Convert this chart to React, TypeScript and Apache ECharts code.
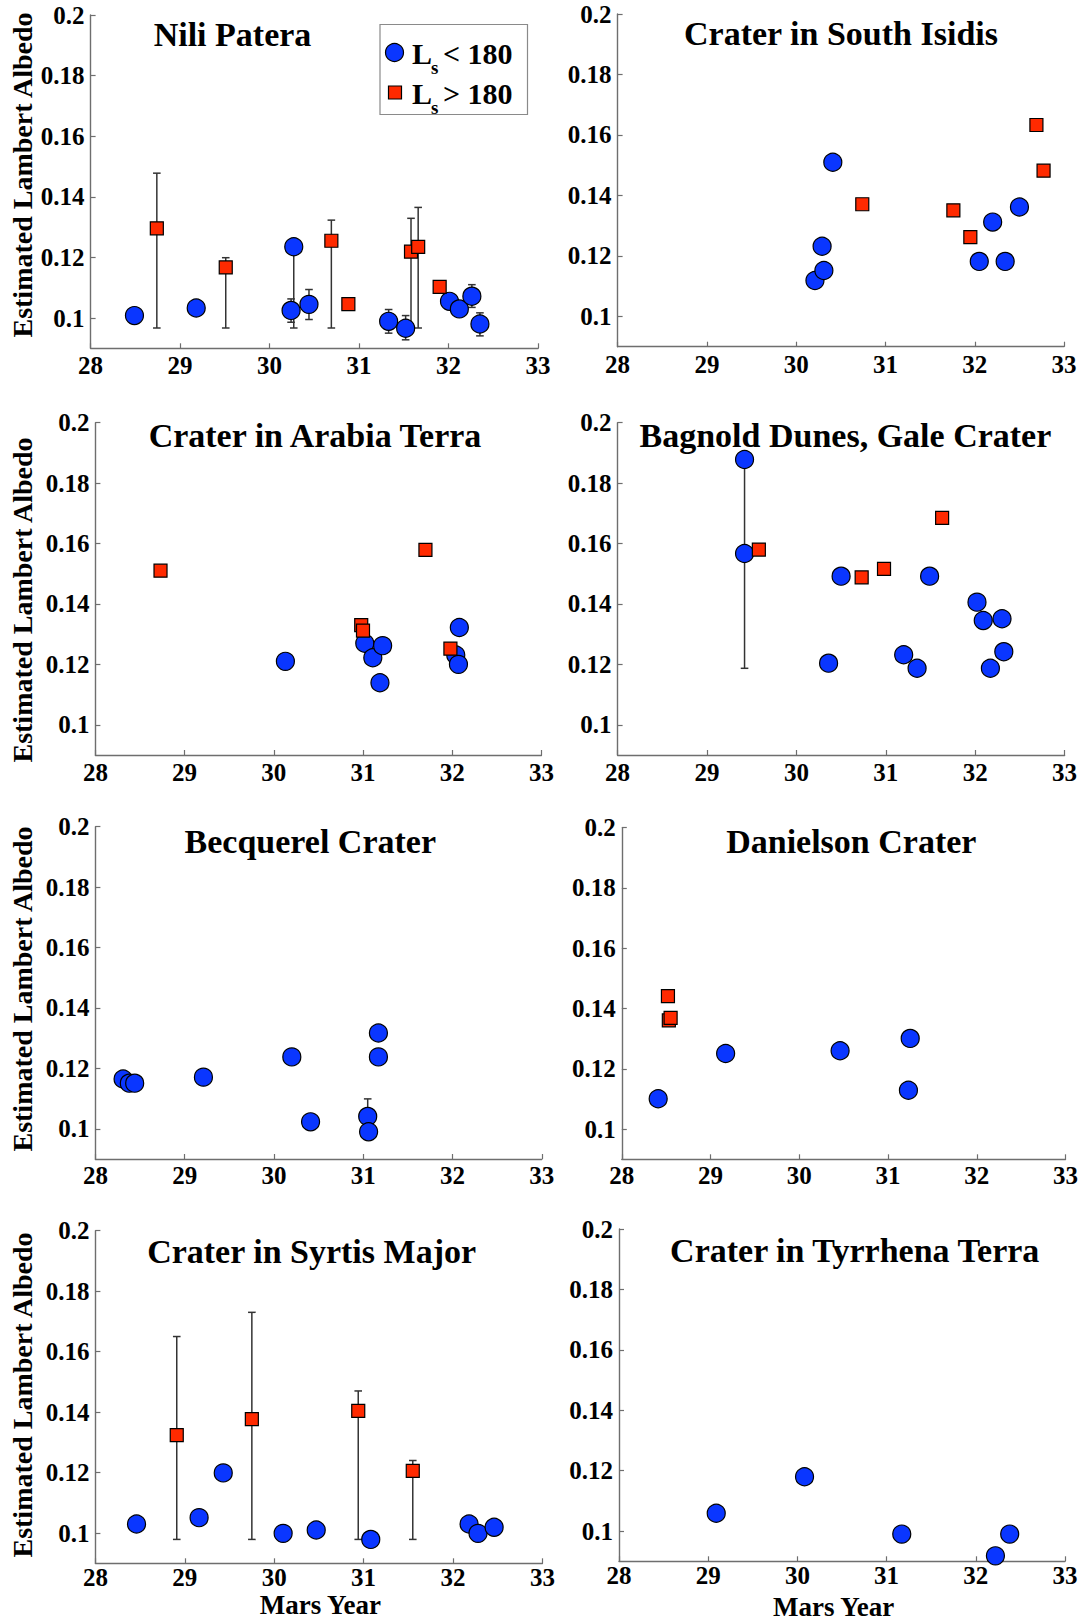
import React, { useEffect, useRef } from 'react';
import * as echarts from 'echarts';

const FONT = "'Liberation Serif', 'Times New Roman', serif";

// ---------- data ----------
const panelTitles = [
  'Nili Patera',
  'Crater in South Isidis',
  'Crater in Arabia Terra',
  'Bagnold Dunes, Gale Crater',
  'Becquerel Crater',
  'Danielson Crater',
  'Crater in Syrtis Major',
  'Crater in Tyrrhena Terra',
];

const xMin = 28;
const xMax = 33;
const yMin = 0.09;
const yMax = 0.2;

const niliBlue = [
  [28.49, 0.1008], [29.18, 0.1033], [30.27, 0.1235], [30.24, 0.1025], [30.44, 0.1045],
  [31.33, 0.0989], [31.52, 0.0966], [32.01, 0.1055], [32.12, 0.103], [32.26, 0.1072], [32.35, 0.098],
];
const niliRed = [
  [28.74, 0.1296], [29.51, 0.1167], [30.69, 0.1255], [30.88, 0.1046], [31.58, 0.1219], [31.66, 0.1235], [31.9, 0.1103],
];
const niliErr = [
  [28.74, 0.0967, 0.1478], [29.51, 0.0967, 0.1199], [30.27, 0.0967, 0.1235], [30.24, 0.0986, 0.1063],
  [30.44, 0.0995, 0.1094], [30.69, 0.0967, 0.1323], [31.33, 0.095, 0.1028], [31.52, 0.0928, 0.1008],
  [31.58, 0.0967, 0.1329], [31.66, 0.0967, 0.1365], [32.26, 0.1035, 0.111], [32.35, 0.0941, 0.1017],
];

const isidisBlue = [
  [30.21, 0.1119], [30.31, 0.1152], [30.29, 0.1232], [30.41, 0.151], [32.05, 0.1182], [32.2, 0.1312], [32.34, 0.1182], [32.5, 0.1362],
];
const isidisRed = [[30.74, 0.1371], [31.76, 0.1351], [31.95, 0.1262], [32.69, 0.1633], [32.77, 0.1482]];

const arabiaBlue = [
  [30.13, 0.121], [31.02, 0.127], [31.11, 0.1222], [31.22, 0.1262], [31.19, 0.1139], [32.08, 0.1322], [32.04, 0.1231], [32.07, 0.12],
];
const arabiaRed = [[28.73, 0.151], [30.98, 0.133], [31.0, 0.1312], [31.7, 0.1579], [31.98, 0.1252]];

const bagnoldBlue = [
  [29.42, 0.1878], [29.42, 0.1567], [30.36, 0.1204], [30.5, 0.1492], [31.2, 0.1232], [31.35, 0.1187],
  [31.49, 0.1492], [32.02, 0.1406], [32.09, 0.1345], [32.17, 0.1187], [32.3, 0.1351], [32.32, 0.1242],
];
const bagnoldRed = [[29.58, 0.158], [30.73, 0.1488], [30.98, 0.1516], [31.63, 0.1685]];
const bagnoldErr = [[29.42, 0.1187, 0.1878]];

const becquerelBlue = [
  [28.31, 0.1165], [28.38, 0.1151], [28.44, 0.1151], [29.21, 0.1171], [30.2, 0.1238],
  [30.41, 0.1023], [31.05, 0.1041], [31.06, 0.099], [31.17, 0.1317], [31.17, 0.1238],
];
const becquerelErr = [[31.05, 0.1041, 0.1099]];

const danielsonBlue = [[28.41, 0.1101], [29.17, 0.1251], [30.46, 0.126], [31.25, 0.1301], [31.23, 0.1129]];
const danielsonRed = [[28.52, 0.1441], [28.53, 0.1361], [28.55, 0.1369]];

const syrtisBlue = [
  [28.46, 0.103], [29.16, 0.1051], [29.43, 0.1199], [30.1, 0.0999], [30.47, 0.101],
  [31.08, 0.0979], [32.18, 0.103], [32.28, 0.0999], [32.46, 0.1019],
];
const syrtisRed = [[28.91, 0.1324], [29.75, 0.1377], [30.94, 0.1404], [31.55, 0.1206]];
const syrtisErr = [[28.91, 0.0979, 0.165], [29.75, 0.0979, 0.173], [30.94, 0.0979, 0.147], [31.55, 0.0979, 0.124]];

const tyrrhenaBlue = [[29.09, 0.1059], [30.08, 0.118], [31.17, 0.099], [32.22, 0.0918], [32.38, 0.099]];

const blueSets = [niliBlue, isidisBlue, arabiaBlue, bagnoldBlue, becquerelBlue, danielsonBlue, syrtisBlue, tyrrhenaBlue];
const redSets = [niliRed, isidisRed, arabiaRed, bagnoldRed, [], danielsonRed, syrtisRed, []];
const errSets = [niliErr, [], [], bagnoldErr, becquerelErr, [], syrtisErr, []];

const legendLabels = ['< 180', '> 180'];
const yAxisName = 'Estimated Lambert Albedo';
const xAxisName = 'Mars Year';

// ---------- layout / style ----------
const grids = [
  { left: 90.6, top: 15, width: 447.5, height: 333.3 },
  { left: 617.6, top: 14, width: 446.5, height: 332.7 },
  { left: 95.4, top: 422.7, width: 446, height: 332.3 },
  { left: 617.6, top: 422.7, width: 447, height: 332.3 },
  { left: 95.4, top: 826.7, width: 446.4, height: 332.3 },
  { left: 621.8, top: 827.7, width: 445.5, height: 331.6 },
  { left: 95.4, top: 1230.7, width: 447, height: 332.6 },
  { left: 619, top: 1229, width: 446, height: 332.3 },
];
const xLabelMargin = [5, 5, 5, 5, 4, 4, 2, 2];
const titlePos = [
  [232.5, 34], [841, 33.3], [315, 435.8], [845.4, 435.8],
  [310.3, 841.7], [851.3, 841.7], [311.6, 1251.5], [854.7, 1250.8],
];
const yNamePos = [[22.4, 175], [22.4, 600], [22.4, 989], [22.4, 1395]];
const xNamePos = [[320.3, 1605], [833.6, 1607]];

const BLUE = '#0a36ff';
const RED = '#ff2a00';
const AXIS = '#6e6e6e';
const ERR = '#333333';
const TICK_FONT = 25;

function buildOption() {
  const axisCommon = {
    axisLine: { show: true, lineStyle: { color: AXIS, width: 1.4 } },
    axisTick: { show: true, inside: true, length: 5, lineStyle: { color: AXIS, width: 1.2 } },
    splitLine: { show: false },
  };
  const rich = {
    t: { fontFamily: FONT, fontWeight: 'bold', fontSize: TICK_FONT, color: '#000', lineHeight: TICK_FONT },
  };
  const fmt = (v: number) => '{t|' + v + '}';

  const grid = grids.map((g) => ({ ...g, containLabel: false }));
  const xAxis = grids.map((_, i) => ({
    type: 'value',
    gridIndex: i,
    min: xMin,
    max: xMax,
    interval: 1,
    ...axisCommon,
    axisLabel: {
      fontFamily: FONT, fontWeight: 'bold', fontSize: TICK_FONT, color: '#000',
      margin: xLabelMargin[i], showMinLabel: true, showMaxLabel: true, formatter: fmt, rich,
    },
  }));
  const yAxis = grids.map((_, i) => ({
    type: 'value',
    gridIndex: i,
    min: yMin,
    max: yMax,
    splitNumber: 5,
    ...axisCommon,
    axisLabel: {
      fontFamily: FONT, fontWeight: 'bold', fontSize: TICK_FONT, color: '#000',
      margin: 6, showMinLabel: false, showMaxLabel: true, formatter: fmt, rich,
    },
  }));

  const series: any[] = [];
  grids.forEach((_, i) => {
    if (errSets[i].length) {
      series.push({
        type: 'custom',
        name: 'err' + i,
        xAxisIndex: i,
        yAxisIndex: i,
        z: 1,
        data: errSets[i],
        encode: { x: 0, y: [1, 2] },
        renderItem: (params: any, api: any) => {
          const x = api.value(0);
          const lo = api.coord([x, api.value(1)]);
          const hi = api.coord([x, api.value(2)]);
          const hw = 3.8;
          const st = { stroke: ERR, lineWidth: 1.5 };
          return {
            type: 'group',
            children: [
              { type: 'line', shape: { x1: lo[0], y1: lo[1], x2: hi[0], y2: hi[1] }, style: st },
              { type: 'line', shape: { x1: lo[0] - hw, y1: lo[1], x2: lo[0] + hw, y2: lo[1] }, style: st },
              { type: 'line', shape: { x1: hi[0] - hw, y1: hi[1], x2: hi[0] + hw, y2: hi[1] }, style: st },
            ],
          };
        },
      });
    }
    series.push({
      type: 'scatter',
      name: 'Ls < 180',
      xAxisIndex: i,
      yAxisIndex: i,
      z: 3,
      symbol: 'circle',
      symbolSize: 18,
      itemStyle: { color: BLUE, borderColor: '#000', borderWidth: 1.2, opacity: 1 },
      data: blueSets[i],
    });
    if (redSets[i].length) {
      series.push({
        type: 'scatter',
        name: 'Ls > 180',
        xAxisIndex: i,
        yAxisIndex: i,
        z: 4,
        symbol: 'rect',
        symbolSize: 13,
        itemStyle: { color: RED, borderColor: '#000', borderWidth: 1.2, opacity: 1 },
        data: redSets[i],
      });
    }
  });

  const textBase = { fontFamily: FONT, fontWeight: 'bold', fill: '#000' };
  const graphic: any[] = [];
  panelTitles.forEach((t, i) => {
    graphic.push({
      type: 'text',
      x: titlePos[i][0],
      y: titlePos[i][1],
      style: { ...textBase, text: t, fontSize: 34, align: 'center', verticalAlign: 'middle' },
    });
  });
  yNamePos.forEach((p) => {
    graphic.push({
      type: 'text',
      x: p[0],
      y: p[1],
      rotation: Math.PI / 2,
      style: { ...textBase, text: yAxisName, fontSize: 28, align: 'center', verticalAlign: 'middle' },
    });
  });
  xNamePos.forEach((p) => {
    graphic.push({
      type: 'text',
      x: p[0],
      y: p[1],
      style: { ...textBase, text: xAxisName, fontSize: 27, align: 'center', verticalAlign: 'middle' },
    });
  });

  // legend box (MATLAB-style)
  graphic.push({
    type: 'rect',
    shape: { x: 380, y: 24.5, width: 147.5, height: 90 },
    style: { fill: '#fff', stroke: '#8a8a8a', lineWidth: 1.2 },
    z: 10,
  });
  graphic.push({
    type: 'circle',
    shape: { cx: 394.5, cy: 52.5, r: 9 },
    style: { fill: BLUE, stroke: '#000', lineWidth: 1.2 },
    z: 11,
  });
  graphic.push({
    type: 'rect',
    shape: { x: 388.5, y: 86, width: 13, height: 13 },
    style: { fill: RED, stroke: '#000', lineWidth: 1.2 },
    z: 11,
  });
  const rows = [53, 93];
  rows.forEach((cy, k) => {
    graphic.push({ type: 'text', x: 412, y: cy, z: 11, style: { ...textBase, text: 'L', fontSize: 30, align: 'left', verticalAlign: 'middle' } });
    graphic.push({ type: 'text', x: 431, y: cy + 14, z: 11, style: { ...textBase, text: 's', fontSize: 19, align: 'left', verticalAlign: 'middle' } });
    graphic.push({ type: 'text', x: 443, y: cy, z: 11, style: { ...textBase, text: legendLabels[k], fontSize: 30, align: 'left', verticalAlign: 'middle' } });
  });

  return {
    animation: false,
    backgroundColor: '#fff',
    textStyle: { fontFamily: FONT, fontWeight: 'bold', color: '#000' },
    grid,
    xAxis,
    yAxis,
    series,
    graphic,
  };
}

export default function App() {
  const ref = useRef<HTMLDivElement>(null);
  useEffect(() => {
    document.body.style.margin = '0';
    if (!ref.current) return;
    const chart = echarts.init(ref.current, undefined, { renderer: 'svg' });
    chart.setOption(buildOption() as any);
    return () => {
      chart.dispose();
    };
  }, []);
  return <div ref={ref} style={{ width: 1081, height: 1621 }} />;
}
